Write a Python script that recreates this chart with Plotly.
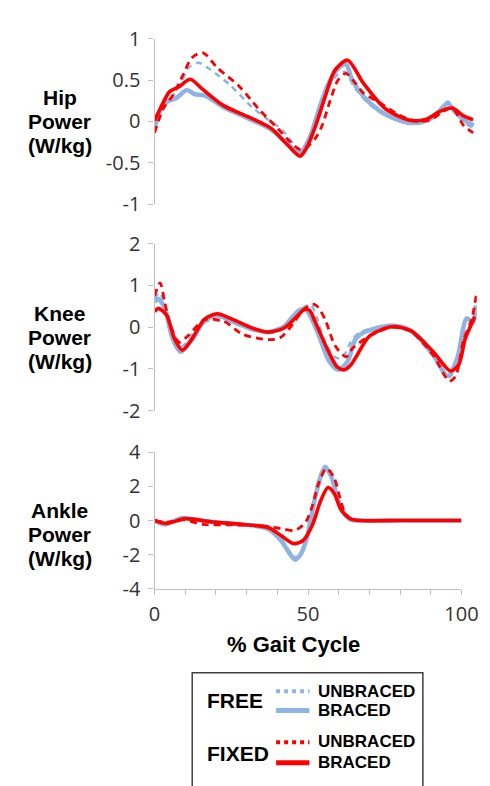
import plotly.graph_objects as go

# ---------------- DATA ----------------
# HIP power (W/kg)
hip_free_braced_x = [0, 2, 4, 7, 10.5, 13, 16.5, 22.5, 30.8, 38, 43.2, 47.4, 50.5, 53.6, 56.7, 59.8, 62.4, 64.4, 68.1, 73.2, 78.4, 83.6, 88.8, 92.9, 95.5, 98, 101.2, 104]
hip_free_braced_y = [-0.08, 0.15, 0.24, 0.28, 0.38, 0.33, 0.31, 0.17, 0.03, -0.1, -0.27, -0.38, -0.2, 0.15, 0.46, 0.64, 0.69, 0.5, 0.3, 0.13, 0.03, -0.02, 0.01, 0.13, 0.22, 0.11, 0.01, -0.05]

hip_free_unbraced_x = [0, 2.5, 5.5, 9, 11.1, 14.2, 18.4, 24.6, 31.8, 37, 41.5, 46.3, 48, 50.5, 53.5, 56.5, 59.5, 62, 65, 69, 74, 80, 86, 90, 93, 95.5, 98, 101, 104]
hip_free_unbraced_y = [-0.06, 0.15, 0.28, 0.5, 0.65, 0.71, 0.62, 0.44, 0.17, 0.02, -0.1, -0.32, -0.36, -0.25, 0.08, 0.4, 0.56, 0.6, 0.42, 0.24, 0.1, 0.0, -0.01, 0.02, 0.12, 0.24, 0.12, -0.02, -0.08]

hip_fixed_braced_x = [0, 1.8, 4.9, 8, 11.6, 15.3, 22.5, 30.8, 38, 43.2, 47.4, 49.4, 52.5, 55.6, 58.8, 62.9, 68.1, 75.3, 83.6, 88.8, 93, 97, 100.5, 103.8]
hip_fixed_braced_y = [0.01, 0.15, 0.36, 0.42, 0.51, 0.40, 0.19, 0.05, -0.085, -0.28, -0.42, -0.33, -0.05, 0.30, 0.62, 0.74, 0.46, 0.15, 0.01, 0.03, 0.12, 0.16, 0.07, 0.02]

hip_fixed_unbraced_x = [0, 2.8, 6, 9, 12.2, 15.8, 20.4, 27.7, 33.9, 40.1, 44, 47.4, 50, 52.5, 54.6, 57.2, 59.8, 62.4, 65.5, 68.1, 73.2, 80, 86, 90, 94, 97, 100.7, 103.8]
hip_fixed_unbraced_y = [-0.14, 0.15, 0.32, 0.54, 0.77, 0.83, 0.65, 0.42, 0.15, -0.085, -0.24, -0.34, -0.3, -0.2, -0.05, 0.25, 0.5, 0.58, 0.46, 0.34, 0.23, 0.07, 0.0, 0.02, 0.12, 0.16, -0.05, -0.14]

# KNEE power (W/kg)
knee_free_braced_x = [0, 1.2, 3.3, 5.9, 8.5, 12.2, 16.3, 20.4, 26.6, 31.8, 37, 42.2, 45, 47.5, 49.5, 51.5, 53.6, 56.7, 59.8, 62.9, 65.5, 68.1, 77.4, 83.6, 90.8, 95.5, 98.6, 101.7, 103.8, 104.7]
knee_free_braced_y = [0.6, 0.68, 0.45, -0.28, -0.59, -0.3, 0.15, 0.28, 0.1, -0.05, -0.12, 0.02, 0.25, 0.42, 0.4, 0.15, -0.21, -0.79, -1.02, -0.82, -0.28, -0.13, 0.04, -0.09, -0.67, -1.17, -0.75, 0.21, 0.12, 0.52]

knee_free_unbraced_x = [0, 1.6, 3.9, 6.5, 9.1, 13, 17.4, 23.5, 32.8, 40, 45.3, 49, 51, 53, 55.5, 58.5, 61, 64, 67, 77.4, 83.6, 90.8, 96, 98.6, 101.5, 103.5, 104.7]
knee_free_unbraced_y = [0.68, 0.83, 0.4, -0.2, -0.45, -0.1, 0.15, 0.13, -0.08, -0.12, 0.2, 0.5, 0.52, 0.2, -0.35, -0.7, -0.75, -0.35, -0.12, 0.02, -0.09, -0.65, -1.2, -0.8, 0.2, 0.15, 0.55]

knee_fixed_braced_x = [0, 1.2, 3.9, 6.5, 9.1, 12.2, 16.3, 20.4, 25.6, 31.8, 37, 42.2, 46.3, 48.8, 50.5, 52.5, 56.7, 59.5, 61.9, 64, 66, 70.1, 77.4, 83.6, 90.8, 96.5, 99.1, 101.2, 102.7, 104.3]
knee_fixed_braced_y = [0.37, 0.45, 0.29, -0.28, -0.55, -0.28, 0.19, 0.32, 0.18, -0.02, -0.12, -0.02, 0.25, 0.42, 0.4, 0.1, -0.59, -0.95, -1.02, -0.9, -0.67, -0.21, 0.01, -0.09, -0.59, -1.05, -0.9, -0.28, -0.02, 0.25]

knee_fixed_unbraced_x = [0, 1.8, 3.3, 4.9, 8, 11, 16.3, 22.5, 28.7, 37, 41, 45.3, 48.4, 51.5, 53, 55.6, 58.8, 62.4, 64.6, 70.1, 77.4, 83.6, 90.8, 96, 98.1, 100.7, 103.3, 104.8]
knee_fixed_unbraced_y = [0.75, 1.06, 0.6, 0.1, -0.36, -0.2, 0.18, 0.14, -0.17, -0.3, -0.25, 0.1, 0.41, 0.55, 0.5, 0.18, -0.44, -0.71, -0.5, -0.21, 0.0, -0.11, -0.67, -1.29, -1.17, -0.3, 0.18, 0.75]

# ANKLE power (W/kg)
ankle_free_braced_x = [0, 3.3, 6, 9, 13, 20, 28.7, 33, 37, 41.2, 43.5, 45.8, 47.5, 49.4, 52, 54, 55.6, 57.5, 60.8, 63.9, 67, 80, 90, 100]
ankle_free_braced_y = [0, -0.23, -0.05, 0.15, 0.05, -0.1, -0.23, -0.32, -0.5, -1.17, -1.8, -2.29, -2.0, -1.17, 1.09, 2.5, 3.15, 2.6, 0.71, 0.05, 0, 0, 0, 0]

ankle_free_unbraced_x = [0, 3.5, 9, 14, 22, 30, 37, 41, 44, 46, 48, 50, 52, 54, 56, 58, 60.5, 63.5, 67, 80, 90, 100]
ankle_free_unbraced_y = [0, -0.2, 0.12, 0.0, -0.15, -0.25, -0.45, -1.0, -1.8, -2.15, -1.8, -0.6, 1.3, 2.7, 3.1, 2.4, 0.9, 0.1, 0, 0, 0, 0]

ankle_fixed_braced_x = [0, 3.9, 10.1, 18.4, 28.7, 37, 41.2, 45.3, 48.4, 51.5, 54, 56.5, 58.5, 60.8, 63.9, 67, 80, 90, 100]
ankle_fixed_braced_y = [0, -0.17, 0.11, -0.07, -0.23, -0.41, -0.88, -1.35, -1.17, -0.23, 1.1, 1.93, 1.6, 0.62, 0.1, 0, 0, 0, 0]

ankle_fixed_unbraced_x = [0, 4, 9, 15.8, 25, 37, 42, 45.3, 47.5, 49.4, 51.5, 53.5, 56, 58.5, 60.3, 61.9, 64, 67, 80, 90, 100]
ankle_fixed_unbraced_y = [0, -0.1, 0.05, -0.23, -0.25, -0.35, -0.5, -0.58, -0.4, -0.05, 0.9, 2.2, 3.05, 2.5, 1.4, 0.5, 0.08, 0, 0, 0, 0]

# tick labels
hip_ticks = [-1, -0.5, 0, 0.5, 1]
hip_ticktext = ["-1", "-0.5", "0", "0.5", "1"]
knee_ticks = [-2, -1, 0, 1, 2]
knee_ticktext = ["-2", "-1", "0", "1", "2"]
ankle_ticks = [-4, -2, 0, 2, 4]
ankle_ticktext = ["-4", "-2", "0", "2", "4"]
x_ticks = [0, 10, 20, 30, 40, 50, 60, 70, 80, 90, 100]
x_ticktext = ["0", "", "", "", "", "50", "", "", "", "", "100"]

panel_titles = [["Hip", "Power", "(W/kg)"], ["Knee", "Power", "(W/kg)"], ["Ankle", "Power", "(W/kg)"]]
x_title = "% Gait Cycle"

# ---------------- STYLE ----------------
W, H = 490, 786
BLUE = "#8EB4E3"
RED = "#FF0000"
AXC = "#BFBFBF"
TICKFONT = dict(family="Open Sans, Arial", size=20, color="#333333")

def px(v):
    return v / W

def py(v):
    return 1 - v / H

fig = go.Figure()

panels = [
    ("x", "y", hip_free_braced_x, hip_free_braced_y, hip_free_unbraced_x, hip_free_unbraced_y,
     hip_fixed_unbraced_x, hip_fixed_unbraced_y, hip_fixed_braced_x, hip_fixed_braced_y),
    ("x2", "y2", knee_free_braced_x, knee_free_braced_y, knee_free_unbraced_x, knee_free_unbraced_y,
     knee_fixed_unbraced_x, knee_fixed_unbraced_y, knee_fixed_braced_x, knee_fixed_braced_y),
    ("x3", "y3", ankle_free_braced_x, ankle_free_braced_y, ankle_free_unbraced_x, ankle_free_unbraced_y,
     ankle_fixed_unbraced_x, ankle_fixed_unbraced_y, ankle_fixed_braced_x, ankle_fixed_braced_y),
]

for (xa, ya, fbx, fby, fux, fuy, xux, xuy, xbx, xby) in panels:
    fig.add_trace(go.Scatter(x=fbx, y=fby, xaxis=xa, yaxis=ya, mode="lines",
                             line=dict(color=BLUE, width=4.5, shape="spline", smoothing=0.8),
                             name="FREE BRACED"))
    fig.add_trace(go.Scatter(x=fux, y=fuy, xaxis=xa, yaxis=ya, mode="lines",
                             line=dict(color=BLUE, width=2.5, dash="6px,5px", shape="spline", smoothing=0.8),
                             name="FREE UNBRACED"))
    fig.add_trace(go.Scatter(x=xux, y=xuy, xaxis=xa, yaxis=ya, mode="lines",
                             line=dict(color=RED, width=2.8, dash="7px,5px", shape="spline", smoothing=0.8),
                             name="FIXED UNBRACED"))
    fig.add_trace(go.Scatter(x=xbx, y=xby, xaxis=xa, yaxis=ya, mode="lines",
                             line=dict(color=RED, width=3.6, shape="spline", smoothing=0.8),
                             name="FIXED BRACED"))

yax_common = dict(showline=True, linecolor=AXC, linewidth=1.3, ticks="outside", ticklen=5,
                  tickcolor=AXC, tickwidth=1.3, showgrid=False, zeroline=False,
                  tickfont=TICKFONT, tickmode="array", ticklabelstandoff=4, fixedrange=True)

hidden_x = dict(visible=False, showgrid=False, zeroline=False, fixedrange=True)

fig.update_layout(
    width=W, height=H,
    margin=dict(l=0, r=0, t=0, b=0),
    paper_bgcolor="white", plot_bgcolor="white",
    showlegend=False,
    xaxis=dict(domain=[px(147.5), px(485.6)], range=[0, 105], anchor="y", **hidden_x),
    yaxis=dict(domain=[py(188.5), py(17.3)], range=[-1, 1], anchor="x",
               tickvals=hip_ticks, ticktext=hip_ticktext, **yax_common),
    xaxis2=dict(domain=[px(147.5), px(485.6)], range=[0, 105], anchor="y2", **hidden_x),
    yaxis2=dict(domain=[py(402.6), py(229.4)], range=[-2, 2], anchor="x2",
                tickvals=knee_ticks, ticktext=knee_ticktext, **yax_common),
    xaxis3=dict(domain=[px(147.5), px(469.5)], range=[0, 100], anchor="y3",
                showline=True, linecolor=AXC, linewidth=1.3, ticks="outside", ticklen=5,
                tickcolor=AXC, tickwidth=1.3, showgrid=False, zeroline=False,
                tickmode="array", tickvals=x_ticks, ticktext=x_ticktext,
                tickfont=TICKFONT, ticklabelstandoff=2, fixedrange=True),
    yaxis3=dict(domain=[py(587), py(445.5)], range=[-4, 4], anchor="x3",
                tickvals=ankle_ticks, ticktext=ankle_ticktext, **yax_common),
)

TITLEFONT = dict(family="Arial, Liberation Sans", size=21, color="black")
for lines, yc in zip(panel_titles, [103, 327, 531]):
    for i, line in enumerate(lines):
        fig.add_annotation(text="<b>" + line + "</b>", xref="paper", yref="paper",
                           x=px(48), y=py(yc + (i - 1) * 25), xanchor="center", yanchor="middle",
                           align="center", showarrow=False, font=TITLEFONT)

fig.add_annotation(text="<b>" + x_title + "</b>", xref="paper", yref="paper",
                   x=px(293), y=py(645), xanchor="center", yanchor="middle",
                   showarrow=False, font=dict(family="Arial, Liberation Sans", size=22, color="black"))

# ---------------- custom legend ----------------
fig.add_shape(type="rect", xref="paper", yref="paper",
              x0=px(187), x1=px(429), y0=py(800), y1=py(674),
              line=dict(color="#404040", width=1.5), fillcolor="rgba(0,0,0,0)")

LEGBIG = dict(family="Arial, Liberation Sans", size=21, color="black")
LEGSMALL = dict(family="Arial, Liberation Sans", size=17, color="black")
for label, yc in [("FREE", 703), ("FIXED", 758)]:
    fig.add_annotation(text="<b>" + label + "</b>", xref="paper", yref="paper",
                       x=px(200), y=py(yc), xanchor="left", yanchor="middle",
                       showarrow=False, font=LEGBIG)
for label, yc in [("UNBRACED", 693), ("BRACED", 713), ("UNBRACED", 745), ("BRACED", 767)]:
    fig.add_annotation(text="<b>" + label + "</b>", xref="paper", yref="paper",
                       x=px(317), y=py(yc), xanchor="left", yanchor="middle",
                       showarrow=False, font=LEGSMALL)

for color, dash, width, yc in [(BLUE, "dot", 4, 693), (BLUE, "solid", 5, 713),
                               (RED, "dot", 4, 746), (RED, "solid", 5, 767)]:
    fig.add_shape(type="line", xref="paper", yref="paper",
                  x0=px(275), x1=px(310), y0=py(yc), y1=py(yc),
                  line=dict(color=color, width=width, dash=dash))

fig.write_html("out.html")
